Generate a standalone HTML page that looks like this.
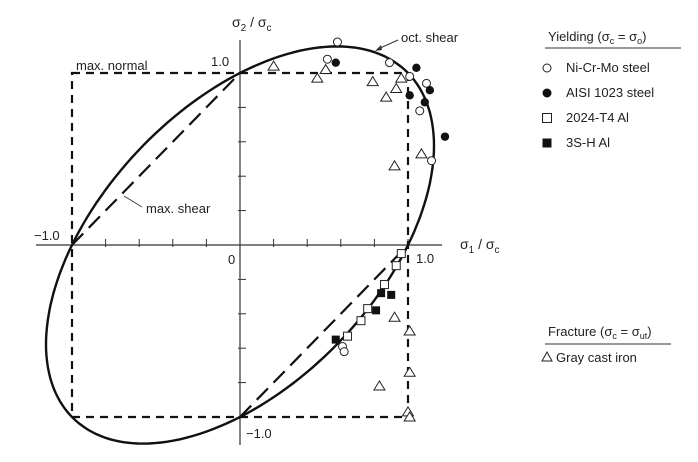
<!DOCTYPE html>
<html><head><meta charset="utf-8"><style>
html,body{margin:0;padding:0;background:#fff;}
svg text{font-family:"Liberation Sans",sans-serif;fill:#222;}
</style></head><body>
<svg id="chart" width="698" height="457" viewBox="0 0 698 457" xmlns="http://www.w3.org/2000/svg">
<g id="axes"></g>
<g id="criteria"></g>
<g id="points"></g>
<g id="labels">
<text x="232" y="27" font-size="14">σ<tspan font-size="10" dy="4">2</tspan><tspan dy="-4"> / σ</tspan><tspan font-size="10" dy="4">c</tspan></text>
<text x="460" y="249" font-size="14">σ<tspan font-size="10" dy="4">1</tspan><tspan dy="-4"> / σ</tspan><tspan font-size="10" dy="4">c</tspan></text>
<text x="211" y="66" font-size="13">1.0</text>
<text x="416" y="263" font-size="13">1.0</text>
<text x="34" y="240" font-size="13">−1.0</text>
<text x="246" y="438" font-size="13">−1.0</text>
<text x="228" y="264" font-size="13">0</text>
<text x="76" y="70" font-size="13">max. normal</text>
<text x="146" y="213" font-size="13">max. shear</text>
<line x1="142" y1="207" x2="124" y2="196" stroke="#444" stroke-width="1"/>
<text x="401" y="42" font-size="13">oct. shear</text>
<line x1="398" y1="40" x2="378" y2="49" stroke="#333" stroke-width="1"/>
<path d="M375,51 L381,45 L382,50 Z" fill="#333"/>
</g>
<g id="legend">
<text x="548" y="41" font-size="13">Yielding (σ<tspan font-size="9" dy="3">c</tspan><tspan dy="-3"> = σ</tspan><tspan font-size="9" dy="3">o</tspan><tspan dy="-3">)</tspan></text>
<line x1="545" y1="48" x2="681" y2="48" stroke="#333" stroke-width="1"/>
<circle cx="547" cy="68" r="4" fill="#fff" stroke="#222"/>
<text x="566" y="72" font-size="13">Ni-Cr-Mo steel</text>
<circle cx="547" cy="93" r="4.5" fill="#111"/>
<text x="566" y="97" font-size="13">AISI 1023  steel</text>
<rect x="542.5" y="113.5" width="9" height="9" fill="#fff" stroke="#222"/>
<text x="566" y="122" font-size="13">2024-T4 Al</text>
<rect x="542.5" y="138.5" width="9" height="9" fill="#111"/>
<text x="566" y="147" font-size="13">3S-H Al</text>
<text x="548" y="336" font-size="13">Fracture (σ<tspan font-size="9" dy="3">c</tspan><tspan dy="-3"> = σ</tspan><tspan font-size="9" dy="3">ut</tspan><tspan dy="-3">)</tspan></text>
<line x1="545" y1="344" x2="671" y2="344" stroke="#333" stroke-width="1"/>
<path d="M547,352 L552,361 L542,361 Z" fill="#fff" stroke="#222"/>
<text x="556" y="362" font-size="13">Gray cast iron</text>
</g>
</svg>
<script>
const nicrmoX=[0.58,0.52,0.89,1.01,1.11,1.07,1.14,0.61,0.62];
const nicrmoY=[1.18,1.08,1.06,0.98,0.94,0.78,0.49,-0.59,-0.62];
const aisiX=[0.57,1.05,1.13,1.10,1.22,1.01];
const aisiY=[1.06,1.03,0.90,0.83,0.63,0.87];
const al2024X=[0.96,0.93,0.86,0.76,0.72,0.64];
const al2024Y=[-0.05,-0.12,-0.23,-0.37,-0.44,-0.53];
const al3shX=[0.84,0.90,0.81,0.57];
const al3shY=[-0.28,-0.29,-0.38,-0.55];
const ironX=[0.20,0.46,0.51,0.79,0.96,0.93,0.87,0.92,1.08,0.92,1.01,1.01,0.83,1.00,1.01];
const ironY=[1.04,0.97,1.02,0.95,0.97,0.91,0.86,0.46,0.53,-0.42,-0.50,-0.74,-0.82,-0.97,-1.00];
const ticks=[-1,-0.8,-0.6,-0.4,-0.2,0.2,0.4,0.6,0.8,1];
const NS="http://www.w3.org/2000/svg";
const X0=240,SX=168,Y0=245,SY=172;
const px=v=>X0+v*SX, py=v=>Y0-v*SY;
function mk(tag,parent,attrs){const e=document.createElementNS(NS,tag);for(const k in attrs)e.setAttribute(k,attrs[k]);parent.appendChild(e);return e;}
const axes=document.getElementById('axes');
let e=mk('line',axes,{x1:36,y1:Y0,x2:442,y2:Y0,stroke:'#333','stroke-width':1.2});


e=mk('line',axes,{x1:X0,y1:40,x2:X0,y2:445,stroke:'#333','stroke-width':1.2});


ticks.forEach(t=>{
 let a=mk('line',axes,{x1:px(t),y1:Y0+2,x2:px(t),y2:Y0-6,stroke:'#333','stroke-width':1});
 
 
 let b=mk('line',axes,{x1:X0-2,y1:py(t),x2:X0+6,y2:py(t),stroke:'#333','stroke-width':1});
 
 
});
const cr=document.getElementById('criteria');
e=mk('path',cr,{d:`M${px(-1)},${py(1)} L${px(1)},${py(1)} L${px(1)},${py(-1)} L${px(-1)},${py(-1)} Z`,fill:'none',stroke:'#111','stroke-width':2.2,'stroke-dasharray':'8,6'});


e=mk('path',cr,{d:`M${px(-1)},${py(0)} L${px(0)},${py(1)} M${px(0)},${py(-1)} L${px(1)},${py(0)}`,fill:'none',stroke:'#111','stroke-width':2.2,'stroke-dasharray':'16,8'});


let d='';
for(let i=0;i<=360;i+=2){const t=i*Math.PI/180;const u=Math.SQRT2*Math.cos(t),w=Math.sqrt(2/3)*Math.sin(t);
 const s1=(u-w)/Math.SQRT2,s2=(u+w)/Math.SQRT2;d+=(i?'L':'M')+px(s1).toFixed(1)+','+py(s2).toFixed(1);}
e=mk('path',cr,{d:d+'Z',fill:'none',stroke:'#111','stroke-width':2.4});


const pts=document.getElementById('points');
nicrmoX.forEach((v,i)=>{const c=mk('circle',pts,{cx:px(v),cy:py(nicrmoY[i]),r:4,fill:'#fff',stroke:'#222','stroke-width':1});
 
 });
aisiX.forEach((v,i)=>{const c=mk('circle',pts,{cx:px(v),cy:py(aisiY[i]),r:4.2,fill:'#111'});
 
 });
al2024X.forEach((v,i)=>{const c=mk('rect',pts,{x:px(v)-4,y:py(al2024Y[i])-4,width:8,height:8,fill:'#fff',stroke:'#222','stroke-width':1});
 
 });
al3shX.forEach((v,i)=>{const c=mk('rect',pts,{x:px(v)-4,y:py(al3shY[i])-4,width:8,height:8,fill:'#111'});
 
 });
ironX.forEach((v,i)=>{const x=px(v),y=py(ironY[i]);const c=mk('path',pts,{d:`M${x},${y-5} L${x+5.5},${y+4} L${x-5.5},${y+4} Z`,fill:'#fff',stroke:'#222','stroke-width':1});
 
 });
</script>
</body></html>
